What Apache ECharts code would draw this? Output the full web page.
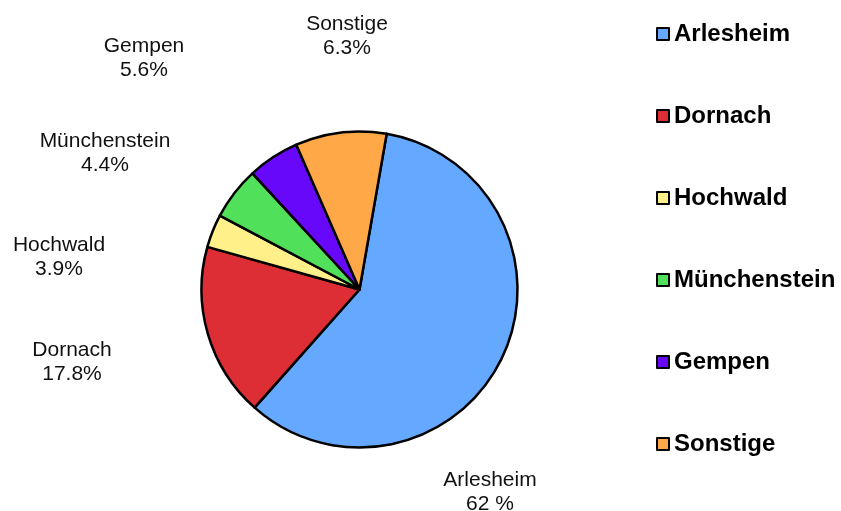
<!DOCTYPE html>
<html>
<head>
<meta charset="utf-8">
<script src="https://cdn.jsdelivr.net/npm/echarts@6/dist/echarts.min.js"></script>
<style>
html,body{margin:0;padding:0;background:#fff;}
#chart{width:841px;height:511px;}
</style>
</head>
<body>
<div id="chart"></div>
<script>
// Data (slice sizes as drawn; label texts as printed)
var categories = ['Arlesheim', 'Dornach', 'Hochwald', 'Münchenstein', 'Gempen', 'Sonstige'];
var sliceValues = [58.8, 17.8, 3.4, 5.4, 5.3, 9.3];
var labelTexts = ['62 %', '17.8%', '3.9%', '4.4%', '5.6%', '6.3%'];
var colors = ['#64a8ff', '#dd2e35', '#fff08a', '#50e05a', '#6808fa', '#ffa848'];

// label placement (style)
var labelPos = [
  [490, 492], [72, 362], [59, 257], [105, 153], [144, 58], [347, 36]
];

var chart = echarts.init(document.getElementById('chart'), null, {renderer: 'canvas'});
var data = categories.map(function (c, i) {
  return { name: c, value: sliceValues[i], itemStyle: { color: colors[i] } };
});

chart.setOption({
  animation: false,
  backgroundColor: '#ffffff',
  legend: {
    orient: 'vertical',
    left: 651,
    top: 17,
    itemWidth: 12,
    itemHeight: 12,
    itemGap: 58,
    icon: 'rect',
    data: categories,
    itemStyle: { borderColor: '#000', borderWidth: 2 },
    textStyle: {
      fontFamily: 'Liberation Sans, Arial, sans-serif',
      fontSize: 24,
      fontWeight: 'bold',
      color: '#000',
      lineHeight: 24,
      padding: [0, 0, 0, 0]
    }
  },
  series: [{
    type: 'pie',
    center: [359.5, 289.5],
    radius: 158,
    startAngle: 80.1,
    clockwise: true,
    avoidLabelOverlap: false,
    itemStyle: { borderColor: '#000', borderWidth: 2.5 },
    label: {
      show: true,
      position: 'outside',
      formatter: function (p) { return p.name + '\n' + labelTexts[p.dataIndex]; },
      fontFamily: 'Liberation Sans, Arial, sans-serif',
      fontSize: 21,
      lineHeight: 24,
      color: '#111',
      align: 'center'
    },
    labelLine: { show: false },
    labelLayout: function (params) {
      var p = labelPos[params.dataIndex];
      return { x: p[0], y: p[1], align: 'center', verticalAlign: 'middle' };
    },
    emphasis: { disabled: true },
    data: data
  }]
});
</script>
</body>
</html>
